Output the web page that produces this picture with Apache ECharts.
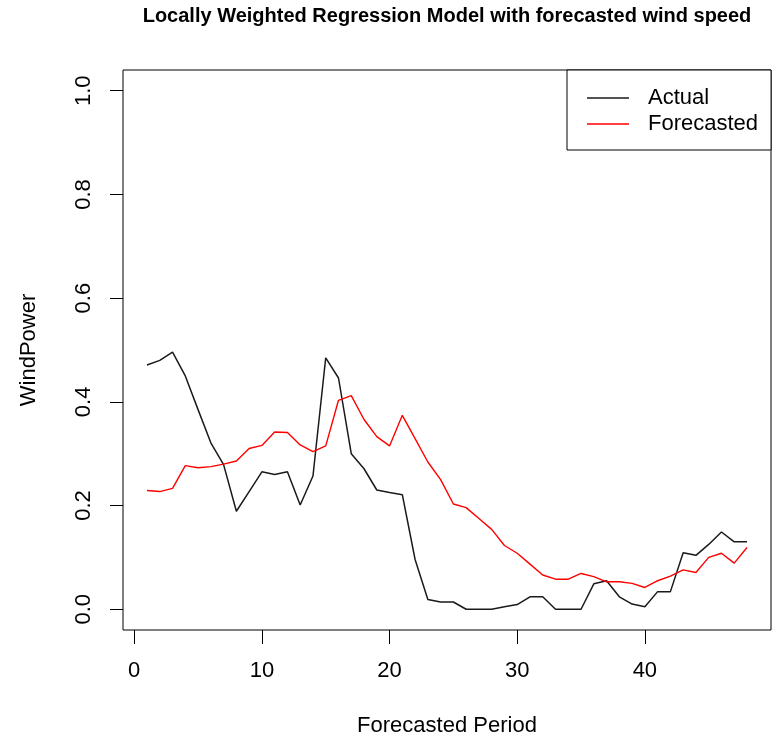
<!DOCTYPE html>
<html>
<head>
<meta charset="utf-8">
<title>Locally Weighted Regression Model</title>
<script src="https://cdn.jsdelivr.net/npm/echarts@6/dist/echarts.min.js"></script>
<style>
  html, body {
    margin: 0;
    padding: 0;
    background: #fff;
  }
  #lwrChart {
    width: 773px;
    height: 735px;
  }
</style>
</head>
<body>
<div id="lwrChart"></div>
<script>
const periods = [1, 2, 3, 4, 5, 6, 7, 8, 9, 10, 11, 12, 13, 14, 15, 16, 17, 18, 19, 20, 21, 22, 23, 24,
  25, 26, 27, 28, 29, 30, 31, 32, 33, 34, 35, 36, 37, 38, 39, 40, 41, 42, 43, 44, 45, 46, 47, 48]
const actualPower = [0.471, 0.480, 0.496, 0.450, 0.385, 0.321, 0.279, 0.189, 0.227, 0.265, 0.260, 0.265,
  0.201, 0.257, 0.485, 0.446, 0.300, 0.271, 0.230, 0.225, 0.221, 0.096, 0.019, 0.014,
  0.014, 0.000, 0.000, 0.000, 0.005, 0.009, 0.024, 0.024, 0.000, 0.000, 0.000, 0.049,
  0.055, 0.024, 0.010, 0.005, 0.034, 0.034, 0.109, 0.104, 0.125, 0.149, 0.130, 0.130]
const forecastPower = [0.229, 0.227, 0.233, 0.277, 0.273, 0.275, 0.280, 0.286, 0.310, 0.316, 0.342, 0.341,
  0.317, 0.304, 0.315, 0.403, 0.412, 0.366, 0.333, 0.315, 0.374, 0.329, 0.284, 0.250,
  0.203, 0.196, 0.175, 0.154, 0.123, 0.108, 0.087, 0.066, 0.058, 0.058, 0.069, 0.063,
  0.053, 0.053, 0.050, 0.042, 0.055, 0.064, 0.076, 0.071, 0.100, 0.108, 0.089, 0.119]
const xTicks = [0, 10, 20, 30, 40]
const yTicks = [0, 0.2, 0.4, 0.6, 0.8, 1.0]

const font = "'Liberation Sans', Arial, Helvetica, sans-serif"

// R-style plot box: data range padded by 4% on each side
const chartOption = {
  animation: false,
  backgroundColor: '#fff',
  textStyle: { fontFamily: font },
  title: {
    text: 'Locally Weighted Regression Model with forecasted wind speed',
    left: 447,
    top: 6,
    padding: 0,
    textAlign: 'center',
    textStyle: {
      fontFamily: font,
      fontSize: 20,
      fontWeight: 'bold',
      color: '#000'
    }
  },
  legend: {
    orient: 'vertical',
    left: 567,
    top: 70,
    padding: [15, 13, 13, 20],
    itemGap: 0,
    itemWidth: 42,
    itemHeight: 1.4,
    icon: 'rect',
    borderColor: '#000',
    borderWidth: 1,
    borderRadius: 0,
    backgroundColor: '#fff',
    textStyle: {
      fontFamily: font,
      fontSize: 22,
      lineHeight: 26,
      color: '#000',
      padding: [0, 0, 0, 14]
    },
    data: ['Actual', 'Forecasted']
  },
  grid: {
    left: 123,
    top: 70,
    width: 648,
    height: 560,
    show: true,
    borderColor: '#000',
    borderWidth: 1,
    backgroundColor: 'transparent',
    containLabel: false,
    outerBoundsMode: 'none'
  },
  xAxis: {
    type: 'value',
    min: -0.88,
    max: 49.88,
    name: 'Forecasted Period',
    nameLocation: 'middle',
    nameGap: 85,
    nameTextStyle: { fontFamily: font, fontSize: 22, color: '#000' },
    axisLine: { show: false, onZero: false },
    splitLine: { show: false },
    axisTick: {
      show: true,
      inside: false,
      length: 14,
      customValues: xTicks,
      lineStyle: { color: '#000', width: 1 }
    },
    axisLabel: {
      customValues: xTicks,
      margin: 30,
      fontFamily: font,
      fontSize: 22,
      color: '#000'
    }
  },
  yAxis: {
    type: 'value',
    min: -0.04,
    max: 1.04,
    name: 'WindPower',
    nameLocation: 'middle',
    nameGap: 83,
    nameTextStyle: { fontFamily: font, fontSize: 22, color: '#000' },
    axisLine: { show: false, onZero: false },
    splitLine: { show: false },
    axisTick: {
      show: true,
      inside: false,
      length: 13,
      customValues: yTicks,
      lineStyle: { color: '#000', width: 1 }
    },
    axisLabel: {
      customValues: yTicks,
      rotate: 90,
      margin: 28,
      fontFamily: font,
      fontSize: 22,
      color: '#000',
      formatter: function (v) {
        return v.toFixed(1)
      }
    }
  },
  series: [
    {
      name: 'Actual',
      type: 'line',
      symbol: 'none',
      color: '#1a1a1a',
      lineStyle: { color: '#1a1a1a', width: 1.5 },
      data: periods.map((p, i) => [p, actualPower[i]])
    },
    {
      name: 'Forecasted',
      type: 'line',
      symbol: 'none',
      color: '#ff0000',
      lineStyle: { color: '#ff0000', width: 1.4 },
      data: periods.map((p, i) => [p, forecastPower[i]])
    }
  ]
}

const myChart = echarts.init(document.getElementById('lwrChart'), null, { renderer: 'canvas' })
myChart.setOption(chartOption, true)
</script>
</body>
</html>
